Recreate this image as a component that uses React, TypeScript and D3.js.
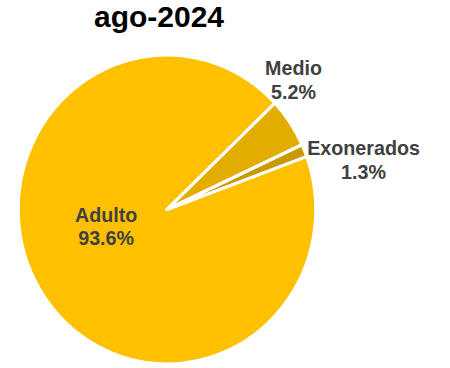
import React from "react";
import * as d3 from "d3";

const title = "ago-2024";
const categories = ["Adulto", "Medio", "Exonerados"];
const values = [93.6, 5.2, 1.3];
const percentLabels = ["93.6%", "5.2%", "1.3%"];
const colors = ["#FFC000", "#E3AD00", "#C99A00"];

const W = 450;
const H = 368;
const cx = 167;
const cy = 209.5;
const rx = 148.7;
const ry = 154.5;
const startDeg = 69.9;
// label radius (fraction of pie radius) and shift of the text block from that point
const labelRadius = [0.5, 1, 1];
const labelShift: [number, number][] = [
  [2.3, -28.3],
  [3.4, -47.6],
  [59.1, 4.6],
];

export default function App() {
  const pie = d3
    .pie<number>()
    .sort(null)
    .value((d) => d)
    .startAngle((startDeg * Math.PI) / 180)
    .endAngle((startDeg * Math.PI) / 180 + 2 * Math.PI);
  const arcs = pie(values);
  const arc = d3.arc<d3.PieArcDatum<number>>().innerRadius(0).outerRadius(rx);

  const labelPos = arcs.map((a, i) => {
    const mid = (a.startAngle + a.endAngle) / 2;
    const r = labelRadius[i];
    return {
      x: cx + Math.sin(mid) * rx * r + labelShift[i][0],
      y: cy - Math.cos(mid) * ry * r + labelShift[i][1],
    };
  });

  return (
    <div style={{ width: W, height: H, position: "absolute", left: 0, top: 0, background: "#fff" }}>
      <svg width={W} height={H} style={{ display: "block" }}>
        <text
          x={159}
          y={27}
          textAnchor="middle"
          fontFamily="Liberation Sans, Arial, sans-serif"
          fontWeight="bold"
          fontSize={30}
          fill="#000"
        >
          {title}
        </text>
        <g transform={`translate(${cx},${cy}) scale(1,${ry / rx})`}>
          {arcs.map((a, i) => (
            <path
              key={categories[i]}
              d={arc(a) || ""}
              fill={colors[i]}
              stroke="#fff"
              strokeWidth={3}
              strokeLinejoin="round"
            />
          ))}
        </g>
        {arcs.map((a, i) => {
          const p = labelPos[i];
          return (
            <text
              key={"l" + categories[i]}
              textAnchor="middle"
              fontFamily="Liberation Sans, Arial, sans-serif"
              fontWeight="bold"
              fontSize={19.7}
              fill="#404040"
            >
              <tspan x={p.x} y={p.y}>
                {categories[i]}
              </tspan>
              <tspan x={p.x} y={p.y + 23.5}>
                {percentLabels[i]}
              </tspan>
            </text>
          );
        })}
      </svg>
    </div>
  );
}
